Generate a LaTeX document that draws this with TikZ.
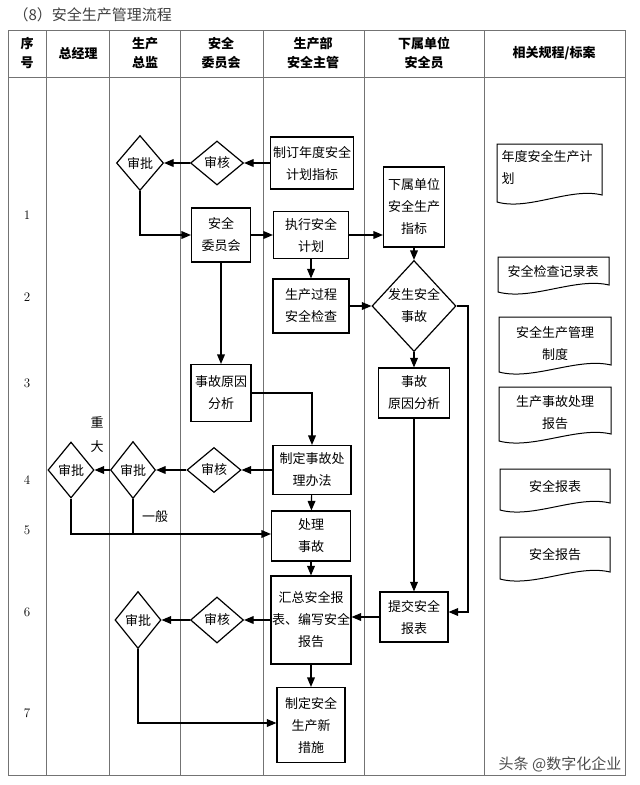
\documentclass[tikz,border=0pt]{standalone}
\usepackage{fontspec}
\usepackage{tikz}
\usetikzlibrary{arrows}
\usetikzlibrary{shapes.geometric}
\newfontfamily\cjk{Noto Sans CJK SC}
% document shape: left, top, right, bottom (wavy bottom edge)
\newcommand{\docbox}[4]{\draw[line width=1pt] (#1,#2) -- (#3,#2) -- (#3,#4-7)
  .. controls ({#1+0.7*(#3-#1)},#4-15) and ({#1+0.3*(#3-#1)},#4+9) .. (#1,#4) -- cycle;}

\begin{document}
\begin{tikzpicture}[x=1pt,y=-1pt,>=triangle 45,
    font=\cjk\fontsize{13}{22}\selectfont,
    box/.style={draw,line width=1.2pt,inner sep=1pt,align=center},
    chk/.style={diamond,draw,line width=1.2pt,inner sep=0pt,align=center},
    flow/.style={->,line width=1.2pt},
    grid/.style={draw=black!55,line width=0.8pt},
    hd/.style={align=center,font=\cjk\bfseries\fontsize{13}{19}\selectfont}]
  \useasboundingbox (0,0) rectangle (640,785);

  \node[anchor=west,text=black!75,font=\cjk\fontsize{15}{18}\selectfont] (ttl) at (10,15) {（8）安全生产管理流程};

  % table
  \draw[grid] (8,30) rectangle (625,775);
  \draw[grid] (8,77) -- (625,77);
  \foreach \x in {46,109,180,263,364,484}
    \draw[grid] (\x,30) -- (\x,775);

  \node[hd] (h1) at (27,53) {序\\号};
  \node[hd] (h2) at (78,53) {总经理};
  \node[hd] (h3) at (145,53) {生产\\总监};
  \node[hd] (h4) at (221,53) {安全\\委员会};
  \node[hd] (h5) at (313,53) {生产部\\安全主管};
  \node[hd] (h6) at (424,53) {下属单位\\安全员};
  \node[hd] (h7) at (554,53) {相关规程/标案};

  \foreach \n/\y in {1/215,2/297,3/383,4/480,5/530,6/612,7/713}
    \node[font=\rmfamily\fontsize{13}{16}\selectfont] (r\n) at (27,\y) {\n};

  % flow nodes
  \node[chk,minimum width=47pt,minimum height=55pt] (sp1) at (140,163) {审批};
  \node[chk,minimum width=53pt,minimum height=44pt] (sh1) at (217,163) {审核};
  \node[box,minimum width=83pt,minimum height=52pt] (zd) at (312,163) {制订年度安全\\计划指标};
  \node[box,minimum width=61pt,minimum height=80pt] (xs) at (414,207) {下属单位\\安全生产\\指标};
  \node[box,minimum width=59pt,minimum height=54pt] (wy) at (221,235) {安全\\委员会};
  \node[box,minimum width=75pt,minimum height=47pt] (zx) at (311,235) {执行安全\\计划};
  \node[box,minimum width=76pt,minimum height=54pt] (jc) at (311,306) {生产过程\\安全检查};
  \node[chk,minimum width=84pt,minimum height=91pt,inner sep=-3pt] (fs) at (414,306) {发生安全\\事故};
  \node[box,minimum width=60pt,minimum height=57pt] (yf1) at (221,393) {事故原因\\分析};
  \node[box,minimum width=71pt,minimum height=50pt] (yf2) at (414,393) {事故\\原因分析};
  \node[box,minimum width=78pt,minimum height=49pt] (zf) at (312,470) {制定事故处\\理办法};
  \node[chk,minimum width=54pt,minimum height=45pt] (sh2) at (214,470) {审核};
  \node[chk,minimum width=45pt,minimum height=57pt] (sp2) at (133,470) {审批};
  \node[chk,minimum width=46pt,minimum height=56pt] (sp3) at (71,470) {审批};
  \node[box,minimum width=79pt,minimum height=50pt] (cl) at (311,536) {处理\\事故};
  \node[box,minimum width=79pt,minimum height=88pt] (hz) at (311,620) {汇总安全报\\表、编写安全\\报告};
  \node[box,minimum width=68pt,minimum height=50pt] (tj) at (414,617) {提交安全\\报表};
  \node[chk,minimum width=53pt,minimum height=46pt] (sh3) at (217,620) {审核};
  \node[chk,minimum width=46pt,minimum height=57pt] (sp4) at (138,620) {审批};
  \node[box,minimum width=68pt,minimum height=75pt] (cs) at (311,725) {制定安全\\生产新\\措施};

  \node[align=center,font=\cjk\fontsize{13}{24}\selectfont] (zdl) at (97,435) {重\\大};
  \node (ybl) at (155,517) {一般};
  \coordinate (fr) at (468,306);

  % connectors
  \draw[flow] (zd) -- (sh1);
  \draw[flow] (sh1) -- (sp1);
  \draw[flow] (sp1.south) |- (wy.west);
  \draw[flow] (wy) -- (zx);
  \draw[flow] (zx.east) -- (zx.east -| xs.west);
  \draw[flow] (xs) -- (fs);
  \draw[flow] (zx) -- (jc);
  \draw[flow] (jc) -- (fs);
  \draw[flow] (wy) -- (yf1);
  \draw[flow] (fs) -- (yf2);
  \draw[flow] (yf1.east) -| (zf.north);
  \draw[flow] (zf) -- (sh2);
  \draw[flow] (sh2) -- (sp2);
  \draw[flow] (sp2) -- (sp3);
  \draw[flow] (sp3.south) |- ([yshift=2pt]cl.west);
  \draw[line width=1.2pt] (sp2.south) -- ([yshift=2pt]sp2.south |- cl.west);
  \draw[flow] (zf) -- (cl);
  \draw[flow] (cl) -- (hz);
  \draw[flow] (yf2) -- (tj);
  \draw[flow] (fs.east) -- (fr) |- ([yshift=5pt]tj.east);
  \draw[flow] (tj.west) -- (tj.west -| hz.east);
  \draw[flow] (hz) -- (sh3);
  \draw[flow] (sh3) -- (sp4);
  \draw[flow] (hz) -- (cs);
  \draw[flow] (sp4.south) |- ([yshift=2pt]cs.west);

  % related documents
  \docbox{497}{144}{602}{202}
  \node[align=left,anchor=north west] (d1) at (498,147) {年度安全生产计\\划};
  \docbox{498}{257}{609}{292}
  \node (d2) at (553,271) {安全检查记录表};
  \docbox{499}{317}{611}{372}
  \node[align=center] (d3) at (555,343) {安全生产管理\\制度};
  \docbox{499}{387}{611}{441}
  \node[align=center] (d4) at (555,413) {生产事故处理\\报告};
  \docbox{500}{469}{610}{510}
  \node (d5) at (555,486) {安全报表};
  \docbox{500}{537}{610}{579}
  \node (d6) at (555,555) {安全报告};

  \node[text=black!70,font=\cjk\fontsize{15}{18}\selectfont] (wm) at (560,764) {头条 @数字化企业};
\end{tikzpicture}
\end{document}
